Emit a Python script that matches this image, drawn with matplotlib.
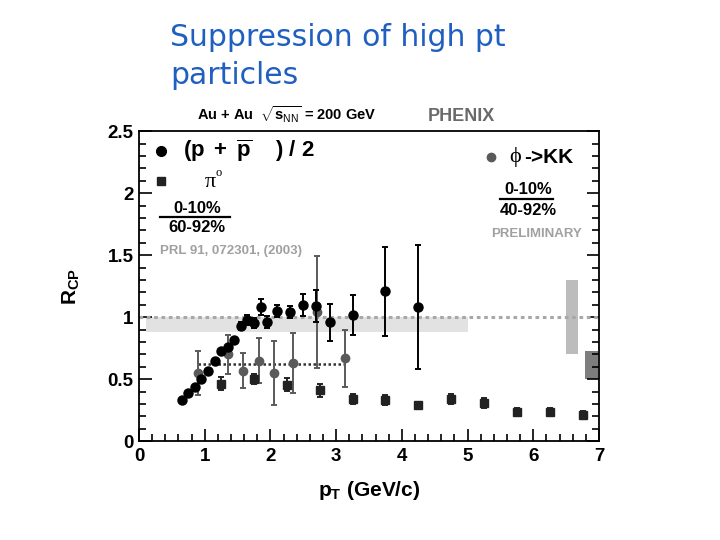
import numpy as np
import matplotlib
matplotlib.use("Agg")
import matplotlib.pyplot as plt
from matplotlib.ticker import MultipleLocator

plt.rcParams['font.family'] = ['Liberation Sans', 'DejaVu Sans']
plt.rcParams['mathtext.fontset'] = 'custom'
plt.rcParams['mathtext.rm'] = 'Liberation Sans'
plt.rcParams['mathtext.bf'] = 'Liberation Sans:bold'
plt.rcParams['mathtext.it'] = 'Liberation Sans:italic'

# (p + pbar)/2, 0-10% / 60-92%
p_pt = [0.65, 0.75, 0.85, 0.95, 1.05, 1.15, 1.25, 1.35, 1.45, 1.55, 1.65, 1.75,
        1.85, 1.95, 2.1, 2.3, 2.5, 2.7, 2.9, 3.25, 3.75, 4.25]
p_rcp = [0.33, 0.39, 0.44, 0.50, 0.57, 0.65, 0.73, 0.76, 0.82, 0.93, 0.98, 0.95,
         1.08, 0.96, 1.05, 1.04, 1.10, 1.09, 0.96, 1.02, 1.21, 1.08]
p_err = [0.0, 0.0, 0.0, 0.0, 0.0, 0.0, 0.0, 0.0, 0.0, 0.03, 0.04, 0.04,
         0.065, 0.05, 0.05, 0.05, 0.09, 0.13, 0.15, 0.16, 0.36, 0.50]

# pi0
pi_pt = [1.25, 1.75, 2.25, 2.75, 3.25, 3.75, 4.25, 4.75, 5.25, 5.75, 6.25, 6.75]
pi_rcp = [0.465, 0.50, 0.457, 0.41, 0.34, 0.33, 0.29, 0.34, 0.305, 0.235, 0.235, 0.21]
pi_err = [0.05, 0.04, 0.05, 0.05, 0.04, 0.04, 0.03, 0.04, 0.04, 0.03, 0.03, 0.03]

# phi -> KK, 0-10% / 40-92%
phi_pt = [0.9, 1.35, 1.59, 1.82, 2.05, 2.35, 2.71, 3.14]
phi_rcp = [0.55, 0.70, 0.57, 0.65, 0.55, 0.63, 1.04, 0.67]
phi_err = [0.18, 0.16, 0.14, 0.18, 0.26, 0.24, 0.45, 0.23]

# systematic bands
band_pt = [0.1, 5.0]
band_lo, band_hi = 0.88, 1.0
phi_level = 0.62
phi_level_pt = [0.9, 3.13]
norm_grey = [0.70, 1.30]
norm_dark = [0.50, 0.73]

fig = plt.figure(figsize=(7.2, 5.4), dpi=100)
ax = fig.add_axes([0.193, 0.183, 0.639, 0.574])

ax.fill_between(band_pt, band_lo, band_hi, color='#e2e2e2', lw=0, zorder=1)
ax.axhline(1.0, color='#a8a8a8', ls=(0, (1.2, 1.2)), lw=2.2, zorder=2)
ax.plot(phi_level_pt, [phi_level, phi_level], color='#333333', ls=(0, (1, 1)), lw=1.8, zorder=2)
ax.bar(6.585, norm_grey[1] - norm_grey[0], width=0.19, bottom=norm_grey[0],
       color='#bcbcbc', zorder=1)
ax.bar(6.885, norm_dark[1] - norm_dark[0], width=0.2, bottom=norm_dark[0],
       color='#7d7d7d', zorder=1)

ax.errorbar(phi_pt, phi_rcp, yerr=phi_err, fmt='o', color='#5a5a5a', ms=6,
            capsize=2, elinewidth=1.4, capthick=1.4, zorder=3)
ax.errorbar(p_pt, p_rcp, yerr=p_err, fmt='o', color='black', ms=6.5,
            capsize=2, elinewidth=1.4, capthick=1.4, zorder=4)
ax.errorbar(pi_pt, pi_rcp, yerr=pi_err, fmt='s', color='#222222', ms=6,
            capsize=2, elinewidth=1.4, capthick=1.4, zorder=4)

ax.set_xlim(0, 7)
ax.set_ylim(0, 2.5)
ax.xaxis.set_major_locator(MultipleLocator(1))
ax.xaxis.set_minor_locator(MultipleLocator(0.2))
ax.yaxis.set_major_locator(MultipleLocator(0.5))
ax.yaxis.set_minor_locator(MultipleLocator(0.1))
ax.set_yticks([0, 0.5, 1, 1.5, 2, 2.5], ['0', '0.5', '1', '1.5', '2', '2.5'])
ax.tick_params(which='both', direction='in', right=True, top=False,
               labelsize=13.5, width=1.2)
ax.tick_params(axis='x', pad=5)
ax.tick_params(axis='y', pad=4)
ax.tick_params(which='major', length=9)
ax.tick_params(which='minor', length=5)
for lbl in ax.get_xticklabels() + ax.get_yticklabels():
    lbl.set_fontweight('bold')
for s in ax.spines.values():
    s.set_linewidth(1.3)

ax.set_xlabel(r'$\mathbf{p_T}$ (GeV/c)', fontsize=15, fontweight='bold', labelpad=10)
ax.set_ylabel(r'$\mathbf{R_{CP}}$', fontsize=15, fontweight='bold', labelpad=18)

# legend-like annotations
ax.plot([0.34], [2.34], 'o', color='black', ms=7)
ax.text(0.67, 2.34, r'$\mathbf{(p\ +\ }\overline{\mathbf{p}}\mathbf{\quad\ )\ /\ 2}$',
        fontsize=16, va='center', ha='left')
ax.plot([0.34], [2.1], 's', color='#222222', ms=6)
ax.text(1.0, 2.09, '\u03c0', fontsize=16, va='center', ha='left', family='Liberation Serif')
ax.text(1.17, 2.16, 'o', fontsize=9, va='center', ha='left', family='Liberation Serif')
ax.text(0.88, 1.88, '0-10%', fontsize=12, fontweight='bold', ha='center', va='center')
ax.plot([0.32, 1.39], [1.81, 1.81], color='black', lw=1.6)
ax.text(0.88, 1.72, '60-92%', fontsize=12, fontweight='bold', ha='center', va='center')
ax.text(0.32, 1.53, 'PRL 91, 072301, (2003)', fontsize=9.5, fontweight='bold',
        color='#a0a0a0', ha='left', va='center')

ax.plot([5.35], [2.29], 'o', color='#5a5a5a', ms=6)
ax.text(5.64, 2.29, '\u03d5', fontsize=16, va='center', ha='left',
        family=['Liberation Serif', 'DejaVu Serif'])
ax.text(5.86, 2.29, '->KK', fontsize=15, fontweight='bold', va='center', ha='left')
ax.text(5.92, 2.03, '0-10%', fontsize=12, fontweight='bold', ha='center', va='center')
ax.plot([5.5, 6.3], [1.95, 1.95], color='black', lw=1.6)
ax.text(5.92, 1.86, '40-92%', fontsize=12, fontweight='bold', ha='center', va='center')
ax.text(6.05, 1.67, 'PRELIMINARY', fontsize=9.5, fontweight='bold',
        color='#a0a0a0', ha='center', va='center')

ax.text(0.88, 2.55, r'Au + Au  $\sqrt{\mathbf{s}_{\mathrm{NN}}}$ = 200 GeV', fontsize=10.5,
        fontweight='bold', ha='left', va='bottom', clip_on=False)
ax.text(4.4, 2.55, 'PHENIX', fontsize=13, fontweight='bold', color='#6a6a6a',
        ha='left', va='bottom', clip_on=False)

fig.text(170 / 720, 1 - 38 / 540, 'Suppression of high pt', fontsize=21.5,
         color='#1f5fc0', family=['DejaVu Sans'], ha='left', va='center')
fig.text(170 / 720, 1 - 75 / 540, 'particles', fontsize=21.5,
         color='#1f5fc0', family=['DejaVu Sans'], ha='left', va='center')

fig.savefig('out.png', dpi=100, facecolor='white')
